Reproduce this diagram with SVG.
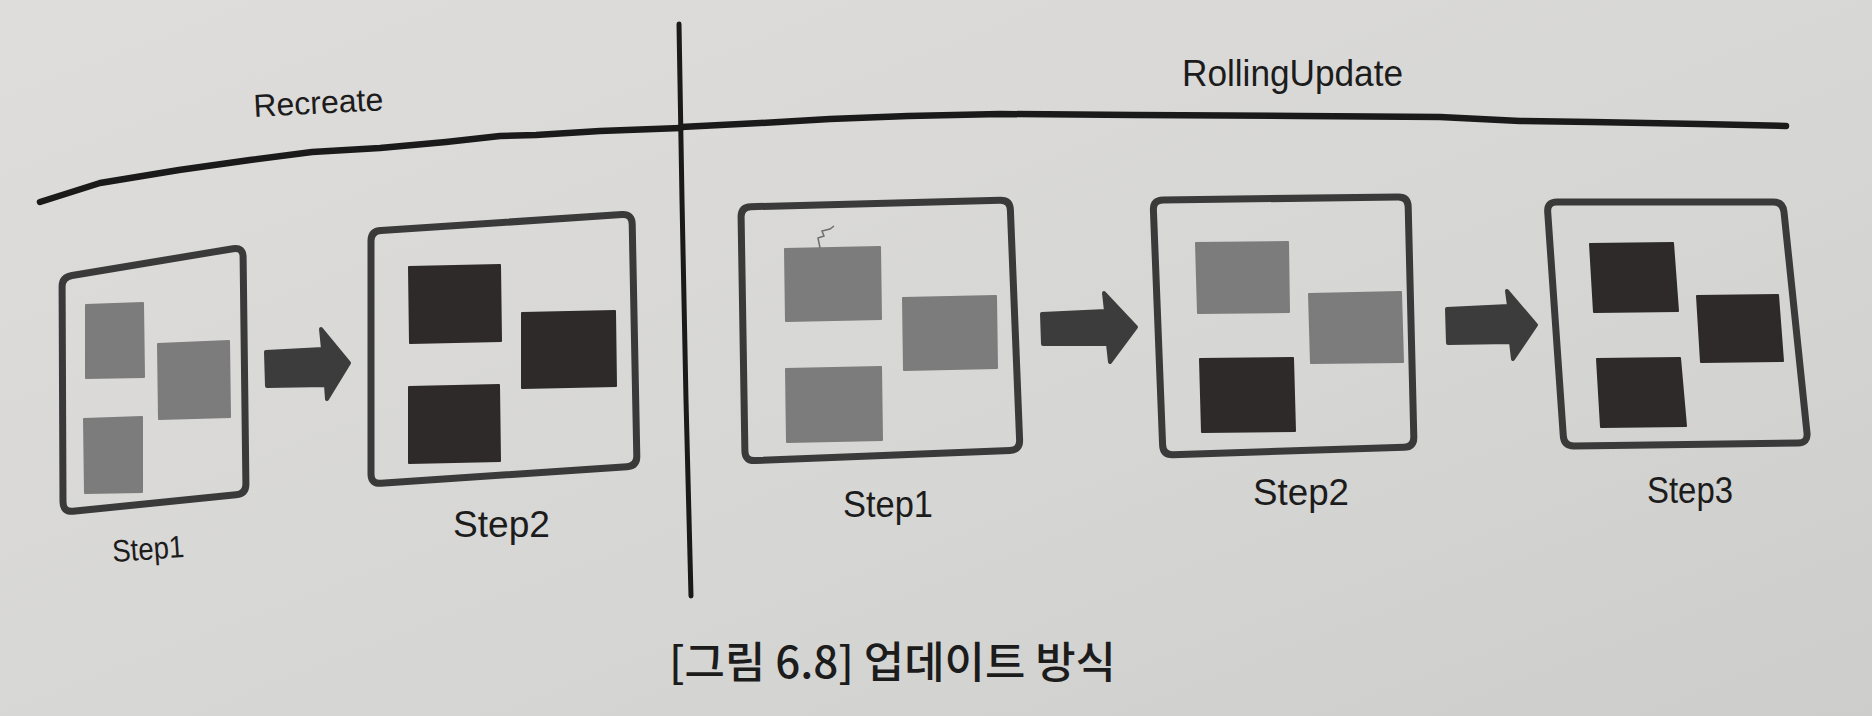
<svg xmlns="http://www.w3.org/2000/svg" width="1872" height="716" viewBox="0 0 1872 716">
<defs>
<linearGradient id="bg" x1="0" y1="0" x2="1" y2="1">
<stop offset="0" stop-color="#dedddb"/>
<stop offset="0.6" stop-color="#d6d6d4"/>
<stop offset="1" stop-color="#cdcdcb"/>
</linearGradient>
<style>
.box{fill:none;stroke:#3a3a3a;stroke-width:7;stroke-linejoin:round}
.gray{fill:#7c7c7c;stroke:#7c7c7c;stroke-width:2;stroke-linejoin:round}
.dark{fill:#2e2a2a;stroke:#2e2a2a;stroke-width:2;stroke-linejoin:round}
.arrow{fill:#3c3c3c;stroke:#3c3c3c;stroke-width:4;stroke-linejoin:round}
.rule{fill:none;stroke:#1a1a1a;stroke-width:6.5;stroke-linecap:round;stroke-linejoin:round}
.lbl{font-family:"Liberation Sans",Arial,sans-serif;fill:#1c1c1c}
</style>
</defs>
<rect width="1872" height="716" fill="url(#bg)"/>
<g id="frame">
<path class="rule" d="M40,202 L100,183 L179,170 L250,160 L312,152 L380,148 L446,142 L500,136 L536,135 L600,131 L681,128"/>
<path class="rule" d="M681,127 L760,123 L830,119 L908,116 L1000,114 L1136,115 L1300,116 L1440,117 L1520,121 L1592,122 L1700,124 L1786,126"/>
<path class="rule" style="stroke-width:5" d="M679,24 L682,200 L686,400 L691,596"/>
<text class="lbl" x="254" y="117" font-size="32" transform="rotate(-3 254 117)">Recreate</text>
<text class="lbl" x="1182" y="86" font-size="36" textLength="221" lengthAdjust="spacingAndGlyphs">RollingUpdate</text>
</g>
<g id="recreate-step1">
<path class="box" d="M72,275.5 L233,248.7 Q243,247 243.1,257 L245.9,484 Q246,494 236,494.7 L73,511.3 Q63,512 63,502 L62.1,287 Q62,277 72,275.5 Z"/>
<polygon class="gray" points="86,305 143,303 144,377 86,378"/>
<polygon class="gray" points="158,344 229,341 230,417 159,419"/>
<polygon class="gray" points="84,419 142,417 142,492 85,493"/>
<text class="lbl" x="113" y="562" font-size="31" textLength="72" lengthAdjust="spacingAndGlyphs" transform="rotate(-4 113 562)">Step1</text>
</g>
<g id="recreate-step2">
<path class="box" d="M381,230.5 L622,214.6 Q632,214 632.2,224 L636.8,456 Q637,466 627,466.7 L381,483.3 Q371,484 371,474 L371,241 Q371,231 381,230.5 Z"/>
<polygon class="dark" points="409,267 500,265 501,341 410,343"/>
<polygon class="dark" points="522,313 615,311 616,386 522,388"/>
<polygon class="dark" points="409,387 499,385 500,461 409,463"/>
<text class="lbl" x="453" y="537" font-size="36" textLength="97" lengthAdjust="spacingAndGlyphs">Step2</text>
</g>
<g id="rolling-step1">
<path class="box" d="M751,206.7 L1000,200.3 Q1010,200 1010.4,210 L1019.6,440 Q1020,450 1010,450.4 L755,460.6 Q745,461 744.9,451 L741.1,217 Q741,207 751,206.7 Z"/>
<polygon class="gray" points="785,249 880,247 881,319 786,321"/>
<polygon class="gray" points="903,298 996,296 997,368 904,370"/>
<polygon class="gray" points="786,369 881,367 882,440 787,442"/>
<path d="M820,248 L818,238 L824,236 L822,231 L830,229 L834,226" fill="none" stroke="#6e6e6e" stroke-width="1.5"/>
<text class="lbl" x="843" y="517" font-size="36" textLength="90" lengthAdjust="spacingAndGlyphs">Step1</text>
</g>
<g id="rolling-step2">
<path class="box" d="M1163,199.9 L1398,197.1 Q1408,197 1408.2,207 L1413.8,437 Q1414,447 1404,447.3 L1173,454.7 Q1163,455 1162.6,445 L1153.4,210 Q1153,200 1163,199.9 Z"/>
<polygon class="gray" points="1196,243 1288,242 1289,312 1198,313"/>
<polygon class="gray" points="1309,294 1401,292 1403,362 1311,363"/>
<polygon class="dark" points="1200,359 1293,358 1295,431 1202,432"/>
<text class="lbl" x="1253" y="505" font-size="36" textLength="96" lengthAdjust="spacingAndGlyphs">Step2</text>
</g>
<g id="rolling-step3">
<path class="box" d="M1557,202 L1773,202 Q1783,202 1784,212 L1807,433 Q1808,443 1798,443.1 L1574,445.9 Q1564,446 1563.3,436 L1547.7,212 Q1547,202 1557,202 Z"/>
<polygon class="dark" points="1590,244 1673,243 1678,311 1594,312"/>
<polygon class="dark" points="1697,296 1778,295 1783,361 1701,362"/>
<polygon class="dark" points="1597,359 1680,358 1686,426 1601,427"/>
<text class="lbl" x="1647" y="503" font-size="36" textLength="86" lengthAdjust="spacingAndGlyphs">Step3</text>
</g>
<g id="connectors">
<path class="arrow" d="M266,352 L323,349 L321,329 L349,363 L327,399 L326,385 L267,386 Z"/>
<path class="arrow" d="M1042,314 L1106,311 L1104,293 L1136,327 L1110,362 L1108,344 L1043,344 Z"/>
<path class="arrow" d="M1447,309 L1509,306 L1507,291 L1536,325 L1513,359 L1511,342 L1448,343 Z"/>
</g>
<g id="caption">
<text x="669" y="678" font-size="43" font-weight="500" textLength="447" lengthAdjust="spacingAndGlyphs" style="font-family:'Noto Sans CJK KR','Noto Sans',sans-serif;fill:#1c1c1c">[그림 6.8] 업데이트 방식</text>
</g>
</svg>
